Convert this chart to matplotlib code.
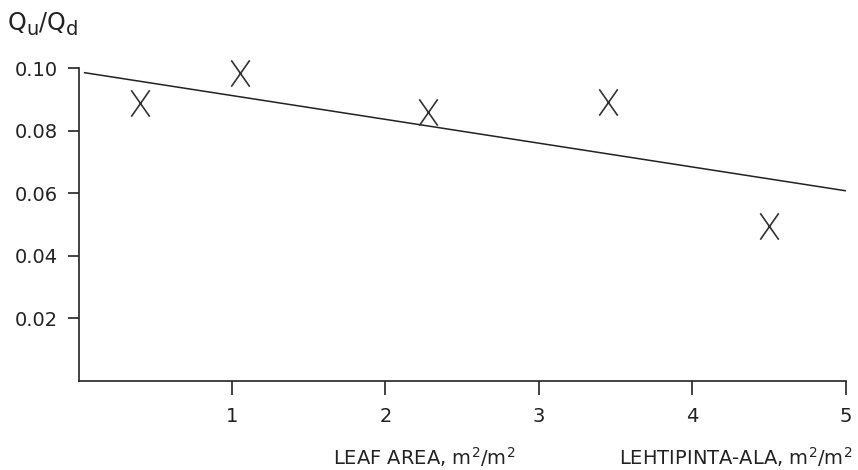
import matplotlib.pyplot as plt
from matplotlib.path import Path

plt.rcParams['font.family'] = ['DejaVu Sans']

# measured ratio vs leaf area
leaf_area = [0.40, 1.05, 2.28, 3.45, 4.50]
q_ratio = [0.0888, 0.0984, 0.0860, 0.0891, 0.0494]

# fitted line end points
fit_x = [0.04, 5.0]
fit_y = [0.0985, 0.0607]

x_ticks = [1, 2, 3, 4, 5]
y_ticks = [0.02, 0.04, 0.06, 0.08, 0.10]

# tall letter-like cross for the data points
cross = Path([(-0.7, -1), (0.7, 1), (-0.7, 1), (0.7, -1)],
             [Path.MOVETO, Path.LINETO, Path.MOVETO, Path.LINETO])

fig = plt.figure(figsize=(8.58, 4.70), dpi=100)
ax = fig.add_axes([0.0915, 0.1904, 0.8945, 0.6649])

ax.plot(fit_x, fit_y, color='#222222', lw=1.1)
ax.plot(leaf_area, q_ratio, ls='none', marker=cross, ms=19, mew=1.2,
        color='#333333', clip_on=False)

ax.set_xlim(0, 5)
ax.set_ylim(0, 0.10)
ax.set_xticks(x_ticks)
ax.set_xticklabels([str(t) for t in x_ticks])
ax.set_yticks(y_ticks)
ax.set_yticklabels(['%.2f' % t for t in y_ticks])

for s in ['top', 'right']:
    ax.spines[s].set_visible(False)
for s in ['left', 'bottom']:
    ax.spines[s].set_linewidth(1.2)
    ax.spines[s].set_color('#222222')
ax.tick_params(direction='out', width=1.2, color='#222222',
               labelsize=14, labelcolor='#222222')
ax.tick_params(axis='y', length=8, pad=7)
ax.tick_params(axis='x', length=10, pad=9)

# y label with larger subscripts, built piece by piece
lab = dict(color='#222222')
renderer = fig.canvas.get_renderer()
x0 = 8
for txt, size, dy in [('Q', 17, 0), ('u', 14, -5), ('/', 17, 0), ('Q', 17, 0), ('d', 14, -5)]:
    t = fig.text(x0 / 858, 1 - 30 / 470 + dy / 470, txt, fontsize=size, **lab)
    x0 = t.get_window_extent(renderer=renderer).x1

fig.text(0.494, 0.012, r'LEAF AREA, m$^\mathregular{2}$/m$^\mathregular{2}$',
         fontsize=14, ha='center', **lab)
fig.text(0.993, 0.012, r'LEHTIPINTA-ALA, m$^\mathregular{2}$/m$^\mathregular{2}$',
         fontsize=14, ha='right', **lab)

fig.savefig('out.png', dpi=100)
